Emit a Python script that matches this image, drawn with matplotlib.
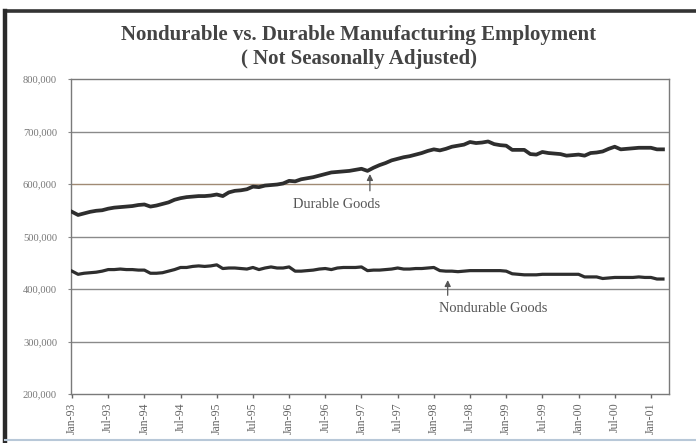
import matplotlib
matplotlib.use("Agg")
import matplotlib.pyplot as plt
from matplotlib.lines import Line2D
import numpy as np

# Monthly employment, Jan-1993 through Mar-2001 (thousands of workers)
durable_k = [
    547, 541, 544, 547, 549, 550, 553, 555, 556, 557, 558, 560,
    561, 557, 559, 562, 565, 570, 573, 575, 576, 577, 577, 578,
    580, 577, 584, 587, 588, 590, 595, 594, 597, 598, 599, 601,
    606, 605, 609, 611, 613, 616, 619, 622, 623, 624, 625, 627,
    629, 625, 631, 636, 640, 645, 648, 651, 653, 656, 659, 663,
    666, 664, 667, 671, 673, 675, 680, 678, 679, 681, 676, 674,
    673, 665, 665, 665, 657, 656, 661, 659, 658, 657, 654, 655,
    656, 654, 659, 660, 662, 667, 671, 666, 667, 668, 669, 669,
    669, 666, 666,
]
nondurable_k = [
    434, 428, 430, 431, 432, 434, 437, 437, 438, 437, 437, 436,
    436, 430, 430, 431, 434, 437, 441, 441, 443, 444, 443, 444,
    446, 439, 440, 440, 439, 438, 441, 437, 440, 442, 440, 440,
    442, 434, 434, 435, 436, 438, 439, 437, 440, 441, 441, 441,
    442, 435, 436, 436, 437, 438, 440, 438, 438, 439, 439, 440,
    441, 435, 434, 434, 433, 434, 435, 435, 435, 435, 435, 435,
    434, 429, 428, 427, 427, 427, 428, 428, 428, 428, 428, 428,
    428, 423, 423, 423, 420, 421, 422, 422, 422, 422, 423, 422,
    422, 419, 419,
]
tick_labels = ["Jan-93", "Jul-93", "Jan-94", "Jul-94", "Jan-95", "Jul-95",
               "Jan-96", "Jul-96", "Jan-97", "Jul-97", "Jan-98", "Jul-98",
               "Jan-99", "Jul-99", "Jan-00", "Jul-00", "Jan-01"]
y_ticks = [200000, 300000, 400000, 500000, 600000, 700000, 800000]

durable = np.array(durable_k) * 1000
nondurable = np.array(nondurable_k) * 1000
months = np.arange(len(durable))

W, H = 696, 443
fig = plt.figure(figsize=(W / 100, H / 100), dpi=100)
fig.patch.set_facecolor("white")

def px(x, y):
    return x / W, 1 - y / H

# panel frame: dark top rule and left rule, faint bottom rule
fig.add_artist(Line2D([5 / W, 1], [1 - 11 / H, 1 - 11 / H], color="#333333", lw=2.6))
fig.add_artist(Line2D([5 / W, 5 / W], [1 - 11 / H, 0], color="#2a2a2a", lw=3.2))
fig.add_artist(Line2D([5 / W, 1], [1 - 440 / H, 1 - 440 / H], color="#b8c8d8", lw=1.5))

serif = ["Liberation Serif", "DejaVu Serif"]

left, right, top, bottom = 71, 669, 79, 394
ax = fig.add_axes([left / W, 1 - bottom / H, (right - left) / W, (bottom - top) / H])
ax.set_xlim(-0.17, 99.0)
ax.set_ylim(200000, 800000)

grid_color = "#8a8a8a"
for v in y_ticks[1:-1]:
    c = "#a08a74" if v == 600000 else grid_color
    ax.axhline(v, color=c, lw=1.0, zorder=1)

for s in ax.spines.values():
    s.set_color("#7a7a7a")
    s.set_linewidth(1.0)

ax.plot(months, durable, color="#2e2e2e", lw=2.7, solid_joinstyle="round", zorder=3)
ax.plot(months, nondurable, color="#2e2e2e", lw=2.3, solid_joinstyle="round", zorder=3)

ax.set_yticks(y_ticks)
ax.set_yticklabels([f"{v:,}" for v in y_ticks], fontfamily=serif, fontsize=7.6, color="#777777")
ax.set_xticks(np.arange(0, 97, 6))
ax.set_xticklabels(tick_labels, rotation=90, fontfamily=serif, fontsize=8.6, color="#666666")
ax.tick_params(axis="x", direction="out", length=3, width=1, color="#666666", pad=3)
ax.tick_params(axis="y", direction="out", length=2, width=0.8, color="#888888", pad=8)

# series labels with pointers
ax.annotate("", xy=(49.4, 619000), xytext=(49.4, 587000),
            arrowprops=dict(arrowstyle="-|>", color="#555555", lw=0.9,
                            mutation_scale=9, shrinkA=0, shrinkB=0))
ax.text(43.9, 560000, "Durable Goods", ha="center", va="center",
        fontfamily=serif, fontsize=10.4, color="#555555")
ax.annotate("", xy=(62.3, 417000), xytext=(62.3, 388000),
            arrowprops=dict(arrowstyle="-|>", color="#555555", lw=0.9,
                            mutation_scale=9, shrinkA=0, shrinkB=0))
ax.text(69.9, 363000, "Nondurable Goods", ha="center", va="center",
        fontfamily=serif, fontsize=10.4, color="#555555")

fig.text(*px(359, 35), "Nondurable vs. Durable Manufacturing Employment",
         ha="center", va="center", fontfamily=serif, fontsize=15, fontweight="bold",
         color="#444444")
fig.text(*px(359, 59), "( Not Seasonally Adjusted)",
         ha="center", va="center", fontfamily=serif, fontsize=15, fontweight="bold",
         color="#444444")

fig.savefig("out.png", dpi=100, facecolor="white")
